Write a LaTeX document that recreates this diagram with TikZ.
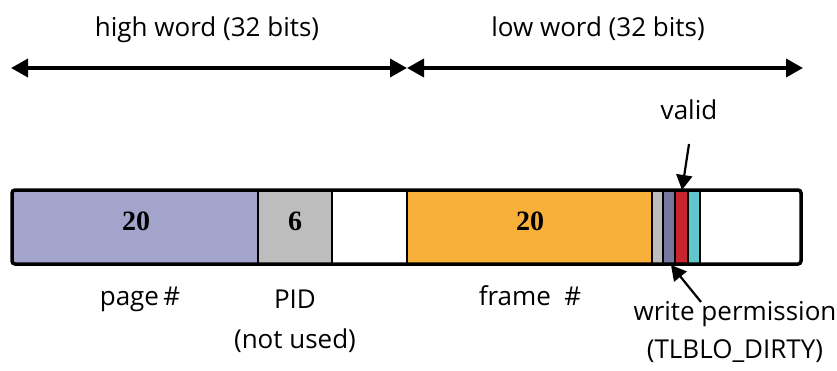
\documentclass[tikz,border=0pt]{standalone}
\usepackage{fontspec}
\setmainfont{Open Sans}
\newfontfamily\numfont{Liberation Serif}
\usetikzlibrary{arrows.meta}
\definecolor{pagec}{HTML}{A2A4CB}
\definecolor{pidc}{HTML}{BDBDBD}
\definecolor{framec}{HTML}{F9B03A}
\definecolor{purc}{HTML}{75779F}
\definecolor{redc}{HTML}{C8252F}
\definecolor{cyanc}{HTML}{5EC8CC}
\tikzset{
  seg/.style={draw=black, line width=1.5pt},
  lbl/.style={font=\fontsize{26}{31}\selectfont, inner sep=0pt, anchor=base},
  num/.style={font=\numfont\bfseries\fontsize{28}{33}\selectfont, inner sep=0pt, anchor=base},
  wordarrow/.style={line width=3.5pt, {Triangle[length=17pt,width=18pt]}-{Triangle[length=17pt,width=18pt]}},
  ptr/.style={line width=2.2pt, -{Triangle[length=15pt,width=16pt]}}
}
\begin{document}
\begin{tikzpicture}[x=1pt,y=-1pt]
\useasboundingbox (0,0) rectangle (837,370);
% segments
\fill[pagec] (12,190) rectangle (258,264);
\fill[pidc] (258,190) rectangle (332,264);
\fill[framec] (407,190) rectangle (652,264);
\fill[pidc] (652,190) rectangle (663,264);
\fill[purc] (663,190) rectangle (675,264);
\fill[redc] (675,190) rectangle (688,264);
\fill[cyanc] (688,190) rectangle (700,264);
\foreach \x in {258,332,407,652,663,675,688,700} \draw[seg] (\x,190) -- (\x,264);
\draw[line width=3.5pt, rounded corners=3pt] (12,190) rectangle (801,264);
% numbers
\node[num] (n1) at (136,230) {20};
\node[num] (n2) at (295,230) {6};
\node[num] (n3) at (530,230) {20};
% word arrows
\coordinate (a0) at (11,68);
\coordinate (a1) at (407,68);
\coordinate (a2) at (803,68);
\draw[wordarrow] (a1) -- (a0);
\draw[wordarrow] (a1) -- (a2);
\node[lbl] (hw) at (207,36) {high word (32 bits)};
\node[lbl] (lw) at (598,36) {low word (32 bits)};
% labels
\node[lbl] (pg) at (140,305) {page\,\#};
\node[lbl] (pid) at (295,308) {PID};
\node[lbl] (nu) at (295,348) {(not used)};
\node[lbl] (fr) at (530,305) {frame~~\#};
\node[lbl] (va) at (689,119) {valid};
\node[lbl] (wp) at (735,320) {write permission};
\node[lbl] (tl) at (735,358) {(TLBLO\_DIRTY)};
% pointers
\coordinate (vt) at (689,144);
\coordinate (vh) at (682,190);
\draw[ptr] (vt) -- (vh);
\coordinate (wt) at (701,302);
\coordinate (wh) at (671,265);
\draw[ptr] (wt) -- (wh);
\end{tikzpicture}
\end{document}
